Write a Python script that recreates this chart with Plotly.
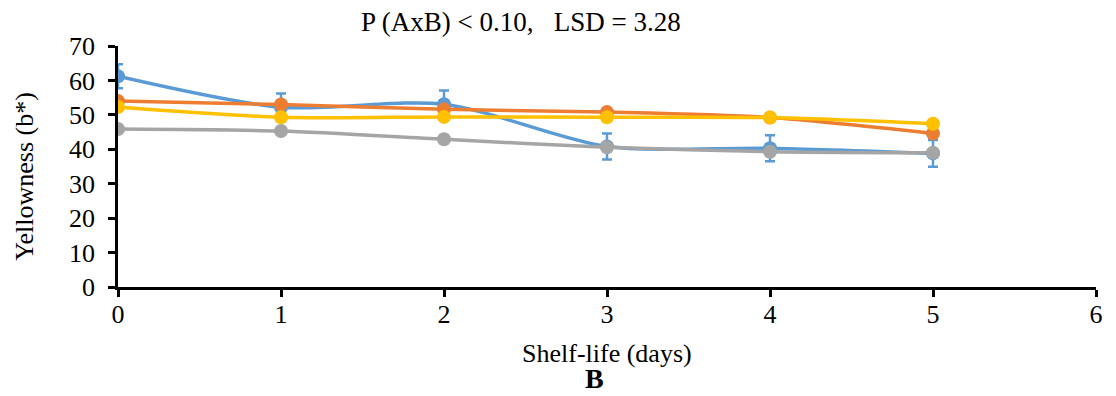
import plotly.graph_objects as go

days = [0, 1, 2, 3, 4, 5]
s1 = [61.2, 52.2, 53.1, 40.8, 40.3, 38.8]
s1_err = [3.5, 4.0, 4.0, 3.8, 3.8, 3.9]
s2 = [54.0, 53.0, 51.6, 50.8, 49.2, 44.6]
s3 = [45.9, 45.3, 42.9, 40.6, 39.3, 39.0]
s4 = [52.3, 49.3, 49.4, 49.3, 49.2, 47.4]

colors = ["#5B9BD5", "#ED7D31", "#A5A5A5", "#FFC000"]
FONT = "Liberation Serif, Times New Roman, serif"

# page body has an 8px margin; figure sized to fit inside the window
OFF = 8
W, H = 1100, 388
pl, pt = 118 - OFF, 46 - OFF
pr = W - (1103 - OFF)
pb = H - (287 - OFF)
pw, ph = W - pl - pr, H - pt - pb
def to_paper(px, py):
    px, py = px - OFF, py - OFF
    return (px - pl) / pw, (H - pb - py) / ph

fig = go.Figure()
for ys, c, err in [(s1, colors[0], s1_err), (s2, colors[1], None), (s3, colors[2], None), (s4, colors[3], None)]:
    kw = {}
    if err is not None:
        kw["error_y"] = dict(type="data", array=err, color=c, thickness=2.5, width=5)
    fig.add_trace(go.Scatter(x=days, y=ys, mode="lines+markers",
                             line=dict(color=c, width=3.5, shape="spline", smoothing=0.8),
                             marker=dict(size=14, color=c), **kw))

ax, ay = to_paper(524, 22)
bx, by = to_paper(598, 378)
xtx, xty = to_paper(610, 353)
ytx, yty = to_paper(23, 176)

def ann(text, x, y, size, angle=0):
    return dict(text=text, x=x, y=y, xref="paper", yref="paper", showarrow=False, textangle=angle,
                xanchor="center", yanchor="middle", font=dict(size=size))

fig.update_layout(
    width=W, height=H,
    margin=dict(l=pl, r=pr, t=pt, b=pb),
    plot_bgcolor="white", paper_bgcolor="white",
    showlegend=False,
    font=dict(family=FONT, size=26, color="black"),
    xaxis=dict(range=[0, 6], tickvals=[0, 1, 2, 3, 4, 5, 6], showline=True, linecolor="black", linewidth=2.5,
               ticks="outside", ticklen=7, tickwidth=2.5, tickcolor="black", showgrid=False, zeroline=False,
               tickfont=dict(size=26), ticklabeloverflow="allow", ticklabelstandoff=-5),
    yaxis=dict(range=[0, 70], tickvals=list(range(0, 71, 10)), showline=True, linecolor="black", linewidth=2.5,
               ticks="outside", ticklen=7, tickwidth=2.5, tickcolor="black", showgrid=False, zeroline=False,
               tickfont=dict(size=26), ticklabelstandoff=8),
    annotations=[
        ann("P (AxB) &lt; 0.10,&nbsp;&nbsp; LSD = 3.28", ax, ay, 27),
        ann("Shelf-life (days)", xtx, xty, 26),
        ann("Yellowness (b*)", ytx, yty, 26, -90),
        ann("<b>B</b>", bx, by, 28),
    ],
)

fig.write_html("out.html")
